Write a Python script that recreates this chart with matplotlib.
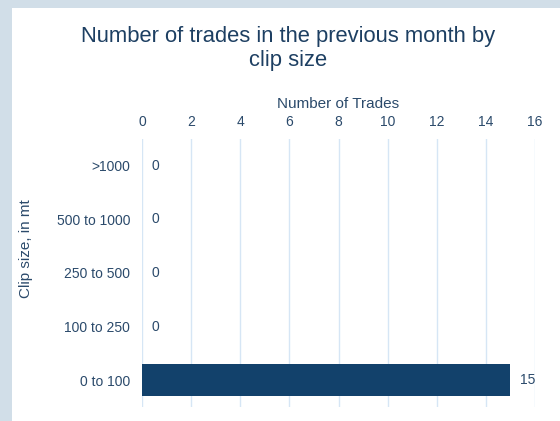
import matplotlib
matplotlib.use("Agg")
import matplotlib.pyplot as plt
from matplotlib.patches import Rectangle

categories = [">1000", "500 to 1000", "250 to 500", "100 to 250", "0 to 100"]
values = [0, 0, 0, 0, 15]
x_ticks = [0, 2, 4, 6, 8, 10, 12, 14, 16]

title = "Number of trades in the previous month by\nclip size"
xlabel = "Number of Trades"
ylabel = "Clip size, in mt"

plt.rcParams['font.family'] = ['Liberation Sans', 'DejaVu Sans']
text_color = "#2b4a6b"
title_color = "#1d3f62"
bar_color = "#12416b"
grid_color = "#d6e6f5"
outer_bg = "#d1dee8"

W, H = 560, 421
fig = plt.figure(figsize=(W / 100, H / 100), dpi=100)
fig.patch.set_facecolor(outer_bg)
fig.add_artist(Rectangle((12 / W, 0), 1 - 12 / W, 1 - 7.5 / H,
                         transform=fig.transFigure, facecolor="white",
                         edgecolor="none", zorder=0))

left, right = 142, 535
top, bottom = 139, 407
ax = fig.add_axes([left / W, 1 - bottom / H, (right - left) / W, (bottom - top) / H])
ax.set_facecolor("none")

ypos = list(range(len(categories)))
ax.barh(ypos, values, height=0.6, color=bar_color, zorder=2)
ax.set_ylim(len(categories) - 0.5, -0.5)
ax.set_xlim(0, 16)
ax.set_yticks(ypos)
ax.set_yticklabels(categories, fontsize=10, color=text_color)
ax.set_xticks(x_ticks)
ax.set_xticklabels([str(t) for t in x_ticks], fontsize=10, color=text_color)
ax.xaxis.tick_top()
ax.xaxis.set_label_position("top")
ax.set_xlabel(xlabel, fontsize=11, color=text_color, labelpad=5)
ax.set_ylabel(ylabel, fontsize=11, color=text_color)
ax.yaxis.set_label_coords((33 - left) / (right - left), (bottom - 249) / (bottom - top))
ax.tick_params(axis="both", length=0)
ax.tick_params(axis="x", pad=7)
ax.tick_params(axis="y", pad=8.6)
for s in ax.spines.values():
    s.set_visible(False)
ax.grid(axis="x", color=grid_color, linewidth=1.0, zorder=0)
ax.set_axisbelow(True)

for y, v in zip(ypos, values):
    ax.annotate(str(v), (v, y), xytext=(7, 0), textcoords="offset points",
                va="center", ha="left", fontsize=10, color=text_color)

fig.text((12 + 560) / 2 / W + 0.003, 1 - 48.5 / H, title, ha="center", va="center",
         fontsize=15.8, color=title_color, linespacing=1.2)

fig.savefig("out.png", dpi=100, facecolor=fig.get_facecolor())
